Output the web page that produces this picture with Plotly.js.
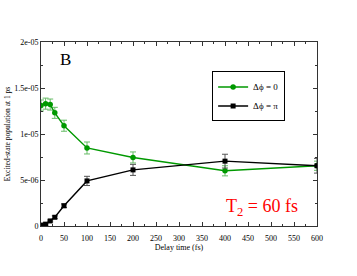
<!DOCTYPE html>
<html>
<head>
<meta charset="utf-8">
<script src="https://cdn.plot.ly/plotly-3.0.1.min.js"></script>
<style>html,body{margin:0;padding:0;background:#fff;}#chart{width:357px;height:276px;}</style>
</head>
<body>
<div id="chart"></div>
<script>
const delayTimes = [0, 10, 20, 30, 50, 100, 200, 400, 600];
const pop0 = [1.31e-5, 1.33e-5, 1.32e-5, 1.23e-5, 1.09e-5, 0.848e-5, 0.745e-5, 0.60e-5, 0.655e-5];
const err0 = [0.06e-5, 0.06e-5, 0.06e-5, 0.06e-5, 0.06e-5, 0.065e-5, 0.06e-5, 0.055e-5, 0.05e-5];
const popPi = [0.01e-5, 0.02e-5, 0.055e-5, 0.095e-5, 0.22e-5, 0.49e-5, 0.61e-5, 0.705e-5, 0.655e-5];
const errPi = [0.005e-5, 0.01e-5, 0.01e-5, 0.015e-5, 0.02e-5, 0.05e-5, 0.06e-5, 0.075e-5, 0.08e-5];
const yTickVals = [0, 5e-6, 1e-5, 1.5e-5, 2e-5];
const yTickText = ["0", "5e-06", "1e-05", "1.5e-05", "2e-05"];
const xTickVals = [0, 50, 100, 150, 200, 250, 300, 350, 400, 450, 500, 550, 600];

const serif = "Liberation Serif, Times New Roman, serif";

const traces = [
  {
    x: delayTimes, y: pop0, name: "Δϕ = 0", type: "scatter", mode: "lines+markers",
    line: {color: "#009900", width: 1.4},
    marker: {color: "#009900", size: 5.5, symbol: "circle"},
    error_y: {type: "data", array: err0, visible: true, color: "#66bb66", thickness: 1, width: 3}
  },
  {
    x: delayTimes, y: popPi, name: "Δϕ = π", type: "scatter", mode: "lines+markers",
    line: {color: "#000000", width: 1.4},
    marker: {color: "#000000", size: 5, symbol: "square"},
    error_y: {type: "data", array: errPi, visible: true, color: "#555555", thickness: 1, width: 3}
  }
];

const layout = {
  width: 357, height: 276,
  margin: {l: 41, r: 40, t: 42, b: 50, pad: 0},
  paper_bgcolor: "#ffffff", plot_bgcolor: "#ffffff",
  font: {family: serif, size: 8, color: "#000"},
  showlegend: true,
  legend: {
    x: 0.62, y: 0.84, xanchor: "left", yanchor: "top",
    bordercolor: "#000", borderwidth: 1, bgcolor: "#fff",
    font: {family: serif, size: 9, color: "#000"},
    tracegroupgap: 0, itemwidth: 30
  },
  xaxis: {
    range: [0, 600], tickvals: xTickVals, ticktext: xTickVals.map(String),
    ticks: "inside", ticklen: 4, tickwidth: 1, tickcolor: "#333",
    minor: {dtick: 25, ticks: "inside", ticklen: 2, tickwidth: 1, tickcolor: "#333"},
    showline: true, linecolor: "#333", linewidth: 1, mirror: "ticks",
    showgrid: false, zeroline: false,
    ticklabelstandoff: 4,
    tickfont: {family: serif, size: 8},
    title: {text: "Delay time (fs)", font: {family: serif, size: 8}, standoff: 2}
  },
  yaxis: {
    range: [0, 2e-5], tickvals: yTickVals, ticktext: yTickText,
    ticks: "inside", ticklen: 4, tickwidth: 1, tickcolor: "#333",
    minor: {dtick: 2.5e-6, ticks: "inside", ticklen: 2, tickwidth: 1, tickcolor: "#333"},
    showline: true, linecolor: "#333", linewidth: 1, mirror: "ticks",
    showgrid: false, zeroline: false,
    tickfont: {family: serif, size: 8},
    title: {text: "Excited-state population at 1 ps", font: {family: serif, size: 7.5}, standoff: 2}
  },
  annotations: [
    {xref: "paper", yref: "paper", x: 0.089, y: 0.905, xanchor: "center", yanchor: "middle",
     text: "B", showarrow: false, font: {family: serif, size: 17, color: "#000"}},
    {xref: "paper", yref: "paper", x: 0.80, y: 0.10, xanchor: "center", yanchor: "middle",
     text: "T<sub>2</sub> = 60 fs", showarrow: false, font: {family: serif, size: 18, color: "#ff0000"}}
  ]
};

Plotly.newPlot("chart", traces, layout, {displayModeBar: false, staticPlot: true});
</script>
</body>
</html>
